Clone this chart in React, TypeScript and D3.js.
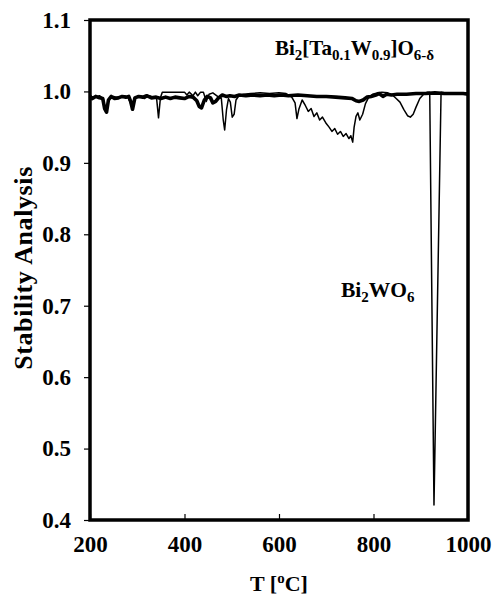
import React, { useEffect, useRef } from 'react';
import * as d3 from 'd3';

// Bi2WO6 (thin line)
const tempWO6 = [200, 210, 220, 228, 232, 236, 240, 250, 260, 270, 280, 285, 290, 295, 305, 315, 325, 335, 341, 345, 349, 353, 360, 380, 400, 405, 410, 418, 423, 428, 434, 440, 446, 452, 460, 470, 478, 482, 485, 489, 493, 497, 501, 505, 509, 515, 525, 540, 560, 580, 600, 615, 627, 634, 638, 642, 649, 656, 662, 668, 674, 680, 686, 692, 700, 706, 712, 718, 724, 730, 736, 742, 748, 752, 756, 759, 763, 767, 771, 777, 783, 790, 798, 808, 818, 830, 840, 848, 856, 864, 872, 878, 884, 890, 898, 906, 914, 919, 928, 943, 950, 965, 980, 1000];
const valWO6 = [0.993, 0.992, 0.994, 0.990, 0.976, 0.974, 0.990, 0.993, 0.991, 0.994, 0.992, 0.985, 0.976, 0.990, 0.993, 0.990, 0.994, 0.992, 0.990, 0.963, 0.991, 0.999, 0.999, 0.999, 0.999, 0.995, 0.999, 0.994, 0.999, 0.994, 0.999, 0.999, 0.986, 0.996, 0.998, 0.993, 0.990, 0.960, 0.946, 0.975, 0.990, 0.985, 0.964, 0.968, 0.988, 0.994, 0.996, 0.997, 0.998, 0.997, 0.998, 0.997, 0.992, 0.984, 0.962, 0.975, 0.988, 0.980, 0.972, 0.976, 0.965, 0.970, 0.960, 0.964, 0.955, 0.950, 0.944, 0.948, 0.940, 0.944, 0.937, 0.941, 0.934, 0.938, 0.929, 0.950, 0.965, 0.970, 0.960, 0.968, 0.983, 0.992, 0.996, 0.998, 0.999, 0.998, 0.995, 0.990, 0.985, 0.975, 0.966, 0.964, 0.968, 0.978, 0.990, 0.996, 0.999, 0.999, 0.421, 0.999, 0.998, 0.998, 0.998, 0.998];

// Bi2[Ta0.1W0.9]O6-d (thick line)
const tempTa = [200, 205, 212, 220, 227, 231, 235, 239, 245, 252, 260, 268, 276, 282, 286, 290, 295, 303, 312, 320, 330, 340, 350, 360, 370, 380, 390, 400, 410, 418, 426, 431, 436, 442, 448, 455, 460, 466, 472, 480, 488, 496, 506, 516, 530, 545, 560, 575, 590, 605, 620, 640, 660, 680, 700, 720, 740, 755, 763, 770, 778, 786, 795, 805, 812, 820, 828, 838, 850, 870, 890, 910, 930, 950, 970, 990, 1000];
const valTa = [0.993, 0.990, 0.993, 0.991, 0.990, 0.976, 0.971, 0.988, 0.993, 0.990, 0.991, 0.993, 0.992, 0.993, 0.986, 0.975, 0.991, 0.993, 0.992, 0.994, 0.991, 0.992, 0.990, 0.992, 0.990, 0.992, 0.991, 0.990, 0.993, 0.992, 0.987, 0.979, 0.977, 0.988, 0.993, 0.991, 0.984, 0.986, 0.991, 0.995, 0.993, 0.994, 0.993, 0.995, 0.994, 0.995, 0.994, 0.995, 0.994, 0.995, 0.994, 0.995, 0.994, 0.993, 0.993, 0.992, 0.991, 0.990, 0.987, 0.986, 0.988, 0.992, 0.993, 0.995, 0.997, 0.993, 0.996, 0.995, 0.996, 0.996, 0.997, 0.997, 0.998, 0.997, 0.997, 0.997, 0.996];

const xTicks = [200, 400, 600, 800, 1000];
const yTicks = [0.4, 0.5, 0.6, 0.7, 0.8, 0.9, 1.0, 1.1];

const FONT = '"Liberation Serif", "Times New Roman", serif';

const App = () => {
  const ref = useRef<SVGSVGElement>(null);

  useEffect(() => {
    const svg = d3.select(ref.current);
    svg.selectAll('*').remove();

    const margin = { left: 90, right: 468, top: 20, bottom: 520 };

    const x = d3.scaleLinear().domain([200, 1000]).range([margin.left, margin.right]);
    const y = d3.scaleLinear().domain([0.4, 1.1]).range([margin.bottom, margin.top]);

    const line = d3.line<[number, number]>()
      .x(d => x(d[0]))
      .y(d => y(d[1]));

    // thick series
    svg.append('path')
      .datum(tempTa.map((t, i) => [t, valTa[i]] as [number, number]))
      .attr('d', line)
      .attr('fill', 'none')
      .attr('stroke', '#000')
      .attr('stroke-width', 3.6)
      .attr('stroke-linejoin', 'round');

    // thin series
    svg.append('path')
      .datum(tempWO6.map((t, i) => [t, valWO6[i]] as [number, number]))
      .attr('d', line)
      .attr('fill', 'none')
      .attr('stroke', '#000')
      .attr('stroke-width', 1.5)
      .attr('stroke-linejoin', 'round');

    // y axis
    const gy = svg.append('g')
      .attr('transform', `translate(${margin.left},0)`)
      .call(d3.axisLeft(y).tickValues(yTicks).tickSize(6).tickPadding(13).tickFormat(d3.format('.1f')));
    gy.select('.domain').remove();
    gy.selectAll('line').attr('stroke-width', 1.2);
    gy.selectAll('text')
      .style('font-family', FONT)
      .style('font-weight', 'bold')
      .style('font-size', '23px');

    // x axis, ticks pointing inward
    const gx = svg.append('g')
      .attr('transform', `translate(0,${margin.bottom})`)
      .call(d3.axisBottom(x).tickValues(xTicks).tickSize(-6).tickPadding(16).tickFormat(d3.format('d')));
    gx.select('.domain').remove();
    gx.selectAll('line').attr('stroke-width', 1.2);
    gx.selectAll('text')
      .style('font-family', FONT)
      .style('font-weight', 'bold')
      .style('font-size', '23px');

    // frame
    svg.append('rect')
      .attr('x', margin.left)
      .attr('y', margin.top)
      .attr('width', margin.right - margin.left)
      .attr('height', margin.bottom - margin.top)
      .attr('fill', 'none')
      .attr('stroke', '#000')
      .attr('stroke-width', 3.5);

    // axis titles
    const xt = svg.append('text')
      .attr('x', (margin.left + margin.right) / 2)
      .attr('y', 591)
      .attr('text-anchor', 'middle')
      .style('font-family', FONT)
      .style('font-weight', 'bold')
      .style('font-size', '22px');
    xt.append('tspan').text('T [');
    xt.append('tspan').attr('dy', -8).style('font-size', '15px').text('o');
    xt.append('tspan').attr('dy', 8).text('C]');

    svg.append('text')
      .attr('transform', `translate(32,${(margin.top + margin.bottom) / 2 - 2}) rotate(-90)`)
      .attr('text-anchor', 'middle')
      .style('font-family', FONT)
      .style('font-weight', 'bold')
      .style('font-size', '26px')
      .style('letter-spacing', '0.6px')
      .text('Stability Analysis');

    // series labels
    const l1 = svg.append('text')
      .attr('x', 275)
      .attr('y', 55)
      .style('font-family', FONT)
      .style('font-weight', 'bold')
      .style('font-size', '21px');
    l1.append('tspan').text('Bi');
    l1.append('tspan').attr('dy', 5).style('font-size', '15px').text('2');
    l1.append('tspan').attr('dy', -5).text('[Ta');
    l1.append('tspan').attr('dy', 5).style('font-size', '15px').text('0.1');
    l1.append('tspan').attr('dy', -5).text('W');
    l1.append('tspan').attr('dy', 5).style('font-size', '15px').text('0.9');
    l1.append('tspan').attr('dy', -5).text(']O');
    l1.append('tspan').attr('dy', 5).style('font-size', '15px').text('6-δ');

    const l2 = svg.append('text')
      .attr('x', 341)
      .attr('y', 297)
      .style('font-family', FONT)
      .style('font-weight', 'bold')
      .style('font-size', '21.5px');
    l2.append('tspan').text('Bi');
    l2.append('tspan').attr('dy', 5).style('font-size', '15px').text('2');
    l2.append('tspan').attr('dy', -5).text('WO');
    l2.append('tspan').attr('dy', 5).style('font-size', '15px').text('6');
  }, []);

  return (
    <svg
      ref={ref}
      width={493}
      height={595}
      style={{ position: 'absolute', left: 0, top: 0, background: '#fff' }}
    />
  );
};

export default App;
